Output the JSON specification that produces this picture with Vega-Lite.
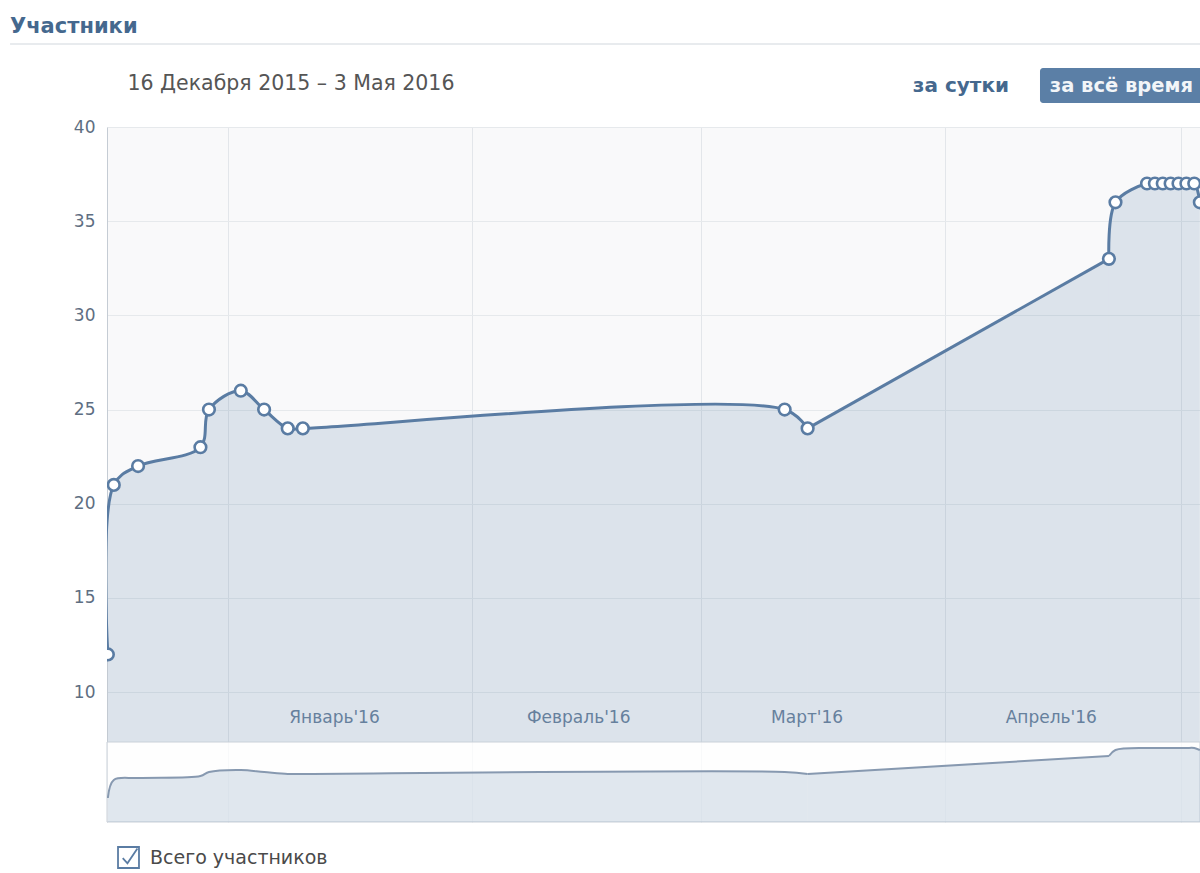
{
  "$schema": "https://vega.github.io/schema/vega-lite/v6.json",
  "width": 1093,
  "height": 695,
  "autosize": {"type": "none"},
  "padding": {"left": 107, "top": 127, "right": 0, "bottom": 51},
  "background": "white",
  "config": {"view": {"stroke": null, "fill": "#f9f9fa"}, "font": "DejaVu Sans"},
  "title": {"text": "Участники", "anchor": "start", "frame": "group", "dx": -97, "offset": 6, "fontSize": 21, "fontWeight": "bold", "color": "#45688e", "font": "DejaVu Sans"},
  "datasets": {
    "members": [
      {"date": "2015-12-16T18:00", "value": 12},
      {"date": "2015-12-17T12:00", "value": 21},
      {"date": "2015-12-20T14:00", "value": 22},
      {"date": "2015-12-28T12:00", "value": 23},
      {"date": "2015-12-29T14:00", "value": 25},
      {"date": "2016-01-02T15:00", "value": 26},
      {"date": "2016-01-05T14:00", "value": 25},
      {"date": "2016-01-08T14:00", "value": 24},
      {"date": "2016-01-10T12:00", "value": 24},
      {"date": "2016-03-11T16:00", "value": 25},
      {"date": "2016-03-14T14:00", "value": 24},
      {"date": "2016-04-21T20:00", "value": 33},
      {"date": "2016-04-22T16:00", "value": 36},
      {"date": "2016-04-26T16:00", "value": 37},
      {"date": "2016-04-27T16:00", "value": 37},
      {"date": "2016-04-28T16:00", "value": 37},
      {"date": "2016-04-29T16:00", "value": 37},
      {"date": "2016-04-30T16:00", "value": 37},
      {"date": "2016-05-01T16:00", "value": 37},
      {"date": "2016-05-02T16:00", "value": 37},
      {"date": "2016-05-03T09:00", "value": 36}
    ]
  },
  "data": {"name": "members"},
  "resolve": {"scale": {"y": "independent"}},
  "layer": [
    {
      "layer": [
        {
          "transform": [{"filter": {"field": "date", "lte": {"year": 2016, "month": 3, "date": 14, "hours": 14}}}],
          "mark": {"type": "area", "interpolate": "catmull-rom", "color": "#5b7fa6", "opacity": 0.18, "clip": true},
          "encoding": {
            "x": {"field": "date", "type": "temporal",
              "scale": {"domain": [{"year": 2015, "month": 12, "date": 16, "hours": 15, "minutes": 20}, {"year": 2016, "month": 5, "date": 3, "hours": 9, "minutes": 30}], "nice": false},
              "axis": {
                "values": [{"year": 2016, "month": 1, "date": 1}, {"year": 2016, "month": 2, "date": 1}, {"year": 2016, "month": 3, "date": 1}, {"year": 2016, "month": 4, "date": 1}, {"year": 2016, "month": 5, "date": 1}],
                "grid": true, "gridColor": "#e3e6ea", "ticks": false, "domain": false,
                "labelOffset": 106, "labelPadding": 0, "offset": -113,
                "labelExpr": "month(datum.value) == 4 ? '' : ['Январь','Февраль','Март','Апрель','Май'][month(datum.value)] + timeFormat(datum.value, \"'%y\")",
                "labelFontSize": 17, "labelColor": "#6a819c", "labelFont": "DejaVu Sans",
                "labelFlush": false, "labelOverlap": false, "labelBound": false, "title": null
              }
            },
            "y": {"field": "value", "type": "quantitative",
              "scale": {"domain": [3.103, 40], "nice": false, "zero": false},
              "axis": {
                "values": [10, 15, 20, 25, 30, 35, 40],
                "grid": true, "gridColor": "#e6e9ec", "ticks": false,
                "domain": true, "domainColor": "#c5ccd4",
                "labelPadding": 12, "labelFontSize": 17, "labelColor": "#5e6e82", "labelFont": "DejaVu Sans",
                "title": "16 Декабря 2015 – 3 Мая 2016", "titleAngle": 0, "titleX": 20, "titleY": -44,
                "titleAlign": "left", "titleBaseline": "middle", "titleFontSize": 20.5, "titleFontWeight": "normal",
                "titleColor": "#555555", "titleFont": "DejaVu Sans"
              }
            },
            "y2": {"datum": 7.35}
          }
        },
        {
          "transform": [{"filter": {"field": "date", "range": [{"year": 2016, "month": 3, "date": 14, "hours": 14}, {"year": 2016, "month": 4, "date": 21, "hours": 20}]}}],
          "mark": {"type": "area", "interpolate": "linear", "color": "#5b7fa6", "opacity": 0.18, "clip": true},
          "encoding": {
            "x": {"field": "date", "type": "temporal"},
            "y": {"field": "value", "type": "quantitative"},
            "y2": {"datum": 7.35}
          }
        },
        {
          "transform": [{"filter": {"field": "date", "gte": {"year": 2016, "month": 4, "date": 21, "hours": 20}}}],
          "mark": {"type": "area", "interpolate": "catmull-rom", "color": "#5b7fa6", "opacity": 0.18, "clip": true},
          "encoding": {
            "x": {"field": "date", "type": "temporal"},
            "y": {"field": "value", "type": "quantitative"},
            "y2": {"datum": 7.35}
          }
        },
        {
          "transform": [{"filter": {"field": "date", "lte": {"year": 2016, "month": 3, "date": 14, "hours": 14}}}],
          "mark": {"type": "line", "interpolate": "catmull-rom", "strokeWidth": 3, "clip": true},
          "encoding": {
            "x": {"field": "date", "type": "temporal"},
            "y": {"field": "value", "type": "quantitative"},
            "color": {"datum": "Всего участников", "type": "nominal", "scale": {"range": ["#5a7ca3"]},
              "legend": {
                "orient": "none", "legendX": 10, "legendY": 719, "title": null, "padding": 0,
                "symbolType": "M-1,-1H1V1H-1Z M-0.55,0.05L-0.1,0.55L0.85,-0.85",
                "symbolSize": 440, "symbolStrokeWidth": 1.8,
                "labelFont": "DejaVu Sans", "labelFontSize": 19, "labelColor": "#4a4a4a", "labelOffset": 10, "labelLimit": 400,
                "encode": {"symbols": {"update": {"fill": {"value": "#ffffff"}, "stroke": {"value": "#5b7596"}, "strokeWidth": {"value": 1.8}, "opacity": {"value": 1}}}}
              }
            }
          }
        },
        {
          "transform": [{"filter": {"field": "date", "range": [{"year": 2016, "month": 3, "date": 14, "hours": 14}, {"year": 2016, "month": 4, "date": 21, "hours": 20}]}}],
          "mark": {"type": "line", "interpolate": "linear", "color": "#5a7ca3", "strokeWidth": 3, "clip": true},
          "encoding": {
            "x": {"field": "date", "type": "temporal"},
            "y": {"field": "value", "type": "quantitative"}
          }
        },
        {
          "transform": [{"filter": {"field": "date", "gte": {"year": 2016, "month": 4, "date": 21, "hours": 20}}}],
          "mark": {"type": "line", "interpolate": "catmull-rom", "color": "#5a7ca3", "strokeWidth": 3, "clip": true},
          "encoding": {
            "x": {"field": "date", "type": "temporal"},
            "y": {"field": "value", "type": "quantitative"}
          }
        },
        {
          "mark": {"type": "point", "filled": true, "fill": "white", "stroke": "#5a7ca3", "strokeWidth": 2.6, "size": 135, "opacity": 1, "clip": true},
          "encoding": {
            "x": {"field": "date", "type": "temporal"},
            "y": {"field": "value", "type": "quantitative"}
          }
        },
        {
          "data": {"values": [{}]},
          "mark": {"type": "rule", "color": "#e0e4e9", "strokeWidth": 1.5},
          "encoding": {
            "x": {"datum": {"year": 2015, "month": 12, "date": 4, "hours": 8}},
            "x2": {"datum": {"year": 2016, "month": 5, "date": 10}},
            "y": {"datum": 44.41, "type": "quantitative"}
          }
        },
        {
          "data": {"values": [{}]},
          "mark": {"type": "rect", "color": "#5b7fa6", "cornerRadius": 3},
          "encoding": {
            "x": {"datum": {"year": 2016, "month": 4, "date": 13, "hours": 2}},
            "x2": {"datum": {"year": 2016, "month": 5, "date": 10}},
            "y": {"datum": 43.13, "type": "quantitative"},
            "y2": {"datum": 41.27}
          }
        },
        {
          "data": {"values": [{}]},
          "mark": {"type": "text", "text": "за сутки", "font": "DejaVu Sans", "fontSize": 20, "fontWeight": "bold", "color": "#45688e", "align": "center", "baseline": "middle"},
          "encoding": {
            "x": {"datum": {"year": 2016, "month": 4, "date": 3, "hours": 1}},
            "y": {"datum": 42.18, "type": "quantitative"}
          }
        },
        {
          "data": {"values": [{}]},
          "mark": {"type": "text", "text": "за всё время", "font": "DejaVu Sans", "fontSize": 19.5, "fontWeight": "bold", "color": "#f2f5f8", "align": "left", "baseline": "middle"},
          "encoding": {
            "x": {"datum": {"year": 2016, "month": 4, "date": 14, "hours": 8}},
            "y": {"datum": 42.2, "type": "quantitative"}
          }
        }
      ]
    },
    {
      "layer": [
        {
          "data": {"values": [{}]},
          "mark": {"type": "rect", "fill": "white", "fillOpacity": 0.75, "stroke": "#c9d0d8", "strokeWidth": 1},
          "encoding": {
            "y": {"datum": 40, "type": "quantitative", "axis": null},
            "y2": {"datum": 0}
          }
        },
        {
          "transform": [{"filter": {"field": "date", "lte": {"year": 2016, "month": 3, "date": 14, "hours": 14}}}],
          "mark": {"type": "area", "interpolate": "catmull-rom", "color": "#5b7fa6", "opacity": 0.18, "clip": true},
          "encoding": {
            "x": {"field": "date", "type": "temporal"},
            "y": {"field": "value", "type": "quantitative", "scale": {"domain": [0, 347.5], "nice": false, "zero": false}, "axis": null}
          }
        },
        {
          "transform": [{"filter": {"field": "date", "range": [{"year": 2016, "month": 3, "date": 14, "hours": 14}, {"year": 2016, "month": 4, "date": 21, "hours": 20}]}}],
          "mark": {"type": "area", "interpolate": "linear", "color": "#5b7fa6", "opacity": 0.18, "clip": true},
          "encoding": {
            "x": {"field": "date", "type": "temporal"},
            "y": {"field": "value", "type": "quantitative", "axis": null}
          }
        },
        {
          "transform": [{"filter": {"field": "date", "gte": {"year": 2016, "month": 4, "date": 21, "hours": 20}}}],
          "mark": {"type": "area", "interpolate": "catmull-rom", "color": "#5b7fa6", "opacity": 0.18, "clip": true},
          "encoding": {
            "x": {"field": "date", "type": "temporal"},
            "y": {"field": "value", "type": "quantitative", "axis": null}
          }
        },
        {
          "transform": [{"filter": {"field": "date", "lte": {"year": 2016, "month": 3, "date": 14, "hours": 14}}}],
          "mark": {"type": "line", "interpolate": "catmull-rom", "color": "#8799b0", "strokeWidth": 2, "clip": true},
          "encoding": {
            "x": {"field": "date", "type": "temporal"},
            "y": {"field": "value", "type": "quantitative", "axis": null}
          }
        },
        {
          "transform": [{"filter": {"field": "date", "range": [{"year": 2016, "month": 3, "date": 14, "hours": 14}, {"year": 2016, "month": 4, "date": 21, "hours": 20}]}}],
          "mark": {"type": "line", "interpolate": "linear", "color": "#8799b0", "strokeWidth": 2, "clip": true},
          "encoding": {
            "x": {"field": "date", "type": "temporal"},
            "y": {"field": "value", "type": "quantitative", "axis": null}
          }
        },
        {
          "transform": [{"filter": {"field": "date", "gte": {"year": 2016, "month": 4, "date": 21, "hours": 20}}}],
          "mark": {"type": "line", "interpolate": "catmull-rom", "color": "#8799b0", "strokeWidth": 2, "clip": true},
          "encoding": {
            "x": {"field": "date", "type": "temporal"},
            "y": {"field": "value", "type": "quantitative", "axis": null}
          }
        }
      ]
    }
  ]
}
